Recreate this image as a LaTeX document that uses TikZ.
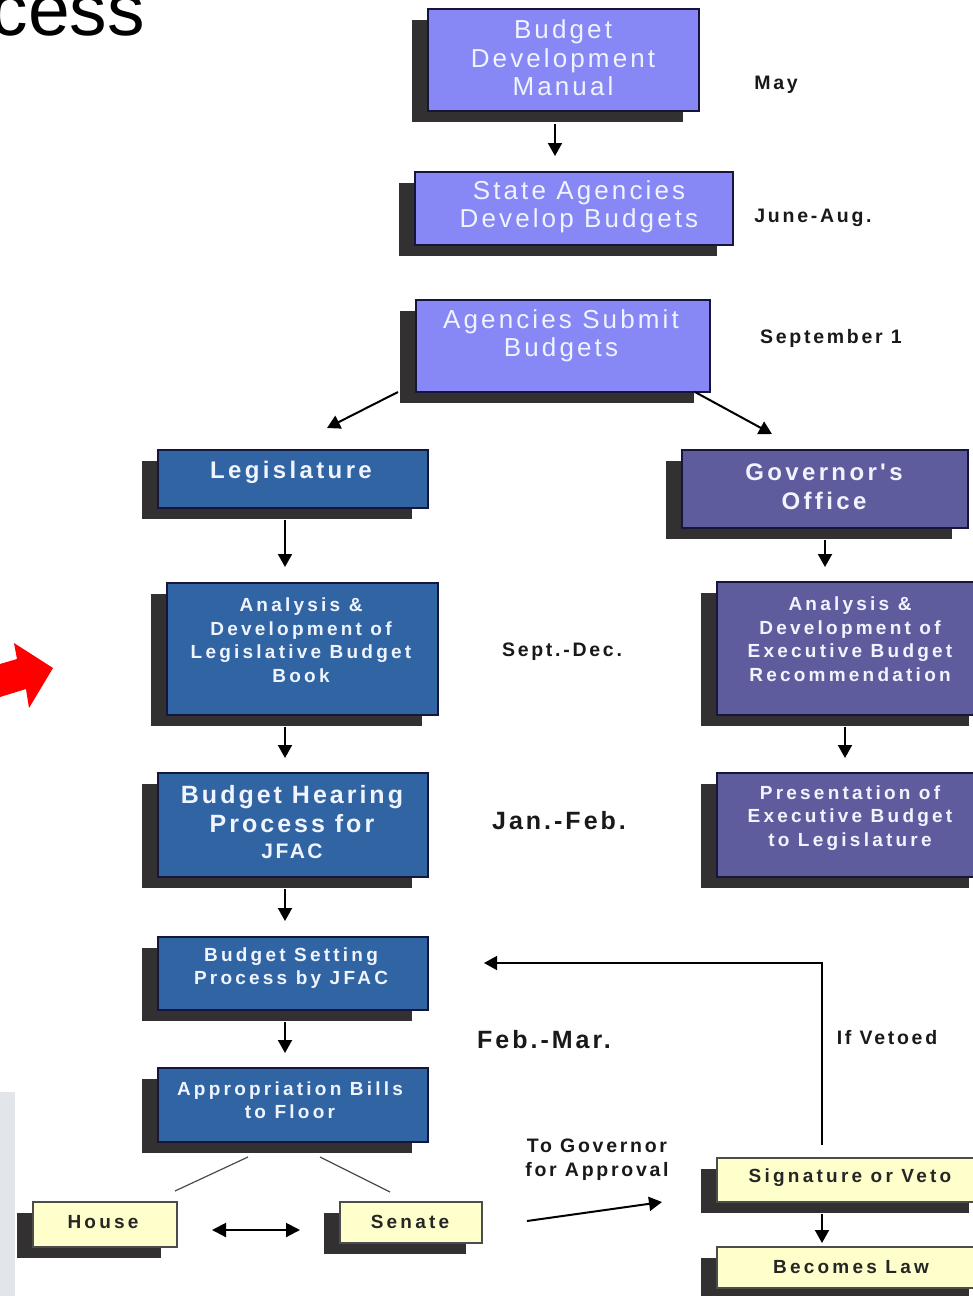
\documentclass[tikz,border=0pt]{standalone}
\usepackage{fontspec}
\setmainfont{Liberation Sans}
\newfontfamily\spa[LetterSpace=12]{Liberation Sans}
\newfontfamily\spb[LetterSpace=14]{Liberation Sans}
\newfontfamily\spc[LetterSpace=17]{Liberation Sans}
\usetikzlibrary{arrows.meta}
\definecolor{peri}{RGB}{135,135,245}
\definecolor{legb}{RGB}{48,100,162}
\definecolor{govp}{RGB}{95,92,158}
\definecolor{paleY}{RGB}{255,255,204}
\definecolor{shadowc}{RGB}{50,48,48}
\definecolor{edgec}{RGB}{22,22,60}
\definecolor{textw}{RGB}{240,244,255}
\definecolor{stripc}{RGB}{226,230,234}
\tikzset{
  front/.style={draw=edgec, line width=1.2pt, inner sep=0pt, outer sep=0pt},
  pfill/.style={front, fill=peri},
  lfill/.style={front, fill=legb},
  gfill/.style={front, fill=govp},
  yfill/.style={front, fill=paleY, draw=black!70},
  toptxt/.style={text=textw, align=center, inner sep=0pt, font=\spa\fontsize{26}{28.5}\selectfont},
  headtxt/.style={text=textw, align=center, inner sep=0pt, font=\spb\bfseries\fontsize{24}{29}\selectfont},
  smtxt/.style={text=textw, align=center, inner sep=0pt, font=\spc\bfseries\fontsize{19}{23.5}\selectfont},
  bigtxt/.style={text=textw, align=center, inner sep=0pt, font=\spa\bfseries\fontsize{25}{29}\selectfont},
  ytxt/.style={text=black!85, align=center, inner sep=0pt, font=\spc\bfseries\fontsize{19}{23}\selectfont},
  lbl/.style={text=black!90, align=center, inner sep=0pt, font=\spb\bfseries\fontsize{19.5}{24}\selectfont},
  biglbl/.style={text=black!90, inner sep=0pt, font=\spa\bfseries\fontsize{25}{29}\selectfont},
  arr/.style={line width=2pt, -{Triangle[length=13pt,width=14pt]}},
  dblarr/.style={line width=2pt, {Triangle[length=14pt,width=14pt]}-{Triangle[length=14pt,width=14pt]}},
  ln/.style={line width=1.2pt, draw=black!70}
}
% name, x1, y1, x2, y2, box style, text style, text position, text
\newcommand{\shbox}[9]{%
  \fill[shadowc] ({#2-16},{#3+11}) rectangle ({#4-16},{#5+11});
  \node[#6, minimum width={(#4-#2)*1pt}, minimum height={(#5-#3)*1pt}] (#1) at ({(#2+#4)/2},{(#3+#5)/2}) {};
  \node[#7] (#1t) at (#8) {#9};
}
\begin{document}
\begin{tikzpicture}[x=1pt,y=-1pt]
\useasboundingbox (0,0) rectangle (973,1296);
\fill[white] (0,0) rectangle (973,1296);
% background strip and title fragment
\fill[stripc] (0,1092) rectangle (15,1296);
\node[anchor=base east, inner sep=0pt, font=\fontsize{75}{75}\selectfont] (title) at (145,35) {cess};
% red arrow
\fill[red] (0,664) -- (17,659) -- (14,643) -- (53,668) -- (29,708) -- (26,689) -- (0,697) -- cycle;

\shbox{b1}{428}{9}{699}{111}{pfill}{toptxt}{563,58}{Budget\\Development\\Manual}
\shbox{b2}{415}{172}{733}{245}{pfill}{toptxt}{579,207}{State Agencies\\Develop Budgets}
\shbox{b3}{416}{300}{710}{392}{pfill}{toptxt}{561,336}{Agencies Submit\\Budgets}
\shbox{leg}{158}{450}{428}{508}{lfill}{headtxt}{291,472}{Legislature}
\shbox{gov}{682}{450}{968}{528}{gfill}{headtxt}{824,487}{Governor's\\Office}
\shbox{anl}{167}{583}{438}{715}{lfill}{smtxt}{301,640}{Analysis \&\\Development of\\Legislative Budget\\Book}
\shbox{anx}{717}{582}{985}{715}{gfill}{smtxt}{850,639}{Analysis \&\\Development of\\Executive Budget\\Recommendation}
\shbox{hear}{158}{773}{428}{877}{lfill}{bigtxt}{292,822}{Budget Hearing\\Process for\\[-3pt]{\fontsize{21}{24}\selectfont JFAC}}
\shbox{pres}{717}{773}{985}{877}{gfill}{smtxt}{850,818}{Presentation of\\Executive Budget\\to Legislature}
\shbox{set}{158}{937}{428}{1010}{lfill}{smtxt}{291,968}{Budget Setting\\Process by JFAC}
\shbox{app}{158}{1068}{428}{1142}{lfill}{smtxt}{290,1100}{Appropriation Bills\\to Floor}
\shbox{house}{33}{1202}{177}{1247}{yfill}{ytxt}{103,1222}{House}
\shbox{senate}{340}{1202}{482}{1243}{yfill}{ytxt}{410,1222}{Senate}
\shbox{sig}{717}{1158}{985}{1202}{yfill}{ytxt}{850,1178}{Signature or Veto}
\shbox{law}{717}{1247}{985}{1288}{yfill}{ytxt}{851,1267}{Becomes Law}

% labels
\node[lbl] (lmay) at (776,85) {May};
\node[lbl] (ljun) at (813,218) {June-Aug.};
\node[lbl] (lsep) at (831,338) {September 1};
\node[lbl] (lsd) at (562,652) {Sept.-Dec.};
\node[biglbl] (ljf) at (559,821) {Jan.-Feb.};
\node[biglbl] (lfm) at (544,1040) {Feb.-Mar.};
\node[lbl] (lveto) at (887,1038) {If Vetoed};
\node[lbl] (ltog) at (597,1160) {To Governor\\for Approval};

% connectors
\draw[arr] ([xshift=-8.5pt,yshift=-13pt]b1.south) -- ([xshift=-19pt,yshift=16pt]b2.north);
\draw[arr] ([xshift=-18pt]b3.south west) -- ([xshift=34pt,yshift=22pt]leg.north);
\draw[arr] ([xshift=-15pt]b3.south east) -- ([xshift=-53pt,yshift=16pt]gov.north);
\draw[arr] ([xshift=-8pt,yshift=-12pt]leg.south) -- ([xshift=-17.5pt,yshift=16pt]anl.north);
\draw[arr] ([yshift=-12pt]gov.south) -- ([xshift=-26pt,yshift=15pt]anx.north);
\draw[arr] ([xshift=-17.5pt,yshift=-12pt]anl.south) -- ([xshift=-8pt,yshift=15pt]hear.north);
\draw[arr] ([xshift=-6pt,yshift=-12pt]anx.south) -- ([xshift=-6pt,yshift=15pt]pres.north);
\draw[arr] ([xshift=-8pt,yshift=-12pt]hear.south) -- ([xshift=-8pt,yshift=16pt]set.north);
\draw[arr] ([xshift=-8pt,yshift=-12pt]set.south) -- ([xshift=-8pt,yshift=15pt]app.north);
\draw[ln] ([xshift=-45pt,yshift=-15pt]app.south) -- ([xshift=70pt,yshift=11pt]house.north);
\draw[ln] ([xshift=27pt,yshift=-15pt]app.south) -- ([xshift=-21pt,yshift=10pt]senate.north);
\draw[dblarr] ([xshift=35pt,yshift=-5.5pt]house.east) -- ([xshift=-40pt,yshift=-7.5pt]senate.west);
\draw[arr] ([xshift=45pt,yshift=1.5pt]senate.east) -- ([xshift=-55pt,yshift=-22pt]sig.west);
\draw[arr, line width=1.6pt] ([xshift=-29pt,yshift=13pt]sig.north) |- ([xshift=56pt,yshift=10.5pt]set.east);
\draw[arr] ([xshift=-29pt,yshift=-12pt]sig.south) -- ([xshift=-29pt,yshift=4pt]law.north);
\end{tikzpicture}
\end{document}
